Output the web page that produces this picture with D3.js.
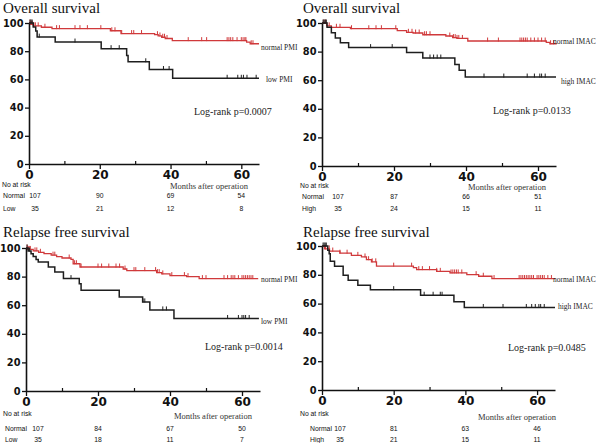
<!DOCTYPE html>
<html><head><meta charset="utf-8">
<script src="https://cdn.jsdelivr.net/npm/d3@7"></script>
<style>body{margin:0;background:#fff}svg{display:block}</style>
</head><body><svg id="c" width="600" height="443"></svg>
<script>
// ---------- DATA ----------
const titles = ["Overall survival", "Overall survival", "Relapse free survival", "Relapse free survival"];
const groupLabelsNormal = ["normal PMI", "normal IMAC", "normal PMI", "normal IMAC"];
const groupLabelsOther = ["low PMI", "high IMAC", "low PMI", "high IMAC"];
const riskRowOther = ["Low", "High", "Low", "High"];
const logRank = ["Log-rank p=0.0007", "Log-rank p=0.0133", "Log-rank p=0.0014", "Log-rank p=0.0485"];
const xTicks = [0, 20, 40, 60];
const xMinorTicks = [10, 30, 50];
const yTicks = [0, 20, 40, 60, 80, 100];
const riskTimes = [0, 20, 40, 60];

// Panel 1: OS by PMI
const os1NormalT = [0, 0.5, 1.2, 3.5, 6.5, 23, 26, 35.5, 36.5, 37.5, 38.5, 40.5, 61.5, 62.5, 65];
const os1NormalS = [100, 99, 98, 97, 96, 94.5, 92.5, 91.7, 90.8, 89.9, 89, 87.5, 86.4, 85.3, 85.3];
const os1NormalCens = [0.3, 0.6, 0.9, 1.4, 1.8, 2.6, 4.5, 7.8, 8.6, 13, 14.4, 16.5, 20.3, 23.4, 24.3, 26.2, 29, 29.6, 31.8, 36.3, 37, 37.8, 38.3, 39, 45, 48.8, 50.2, 56, 56.5, 57, 57.6, 58.8, 60, 60.5, 61, 61.3, 62.8, 63.3];
const os1LowT = [0, 1.2, 1.9, 2.3, 7.4, 20.4, 27.6, 28, 34, 40.6, 65];
const os1LowS = [100, 97.1, 94.3, 90, 86.5, 81.8, 77, 72.5, 67, 60.8, 60.8];
const os1LowCens = [0.3, 0.6, 0.9, 2.9, 13, 23.2, 25.5, 33, 38, 39.6, 56, 59, 60, 60.6, 61.6, 64.2];

// Panel 2: OS by IMAC
const os2NormalT = [0, 1.3, 2.6, 7.9, 20.9, 23.5, 25.3, 28, 34.4, 36.3, 37.5, 40.5, 62.3, 63.3, 65.2];
const os2NormalS = [100, 98, 97, 96, 94.6, 93.5, 93, 91.8, 90.9, 89.8, 89.2, 87.4, 86.4, 85.5, 85.5];
const os2NormalCens = [0.5, 1, 2, 4, 5, 8.2, 13, 15, 16.5, 20.5, 24, 25, 26, 27, 28.5, 29, 30, 35.5, 36.5, 37, 37.5, 38, 39, 46, 49, 55, 55.5, 56, 56.5, 57, 58, 59, 60, 61, 62, 63.5, 64.3];
const os2HighT = [0, 1.4, 2.6, 3.7, 5.1, 7.4, 23.5, 28, 36.9, 38.1, 39.8, 65];
const os2HighS = [100, 97.1, 93.2, 89.5, 86.2, 82.8, 79.3, 75.5, 71, 66.9, 62.2, 62.2];
const os2HighCens = [0.3, 0.6, 0.9, 1.2, 13.5, 19.5, 30, 31, 32, 33, 45, 50.5, 57, 59, 60.5, 61, 62];

// Panel 3: RFS by PMI
const rfs3NormalT = [0, 0.5, 2, 3.5, 5, 7, 8.5, 10, 12.5, 13.1, 15, 27, 28, 36.3, 37.7, 40, 44.6, 48.1, 64.5];
const rfs3NormalS = [100, 99, 98, 97, 96, 95, 94, 93, 92, 89, 86.7, 85.3, 84.2, 82.8, 81.9, 80.7, 80, 78.6, 78.6];
const rfs3NormalCens = [0.3, 0.6, 0.9, 1.2, 2.5, 3, 4, 7.5, 8, 12, 13.5, 14, 15.3, 20, 21, 23, 25, 26, 27.5, 30, 30.5, 33, 36, 36.5, 37, 38, 40.5, 44, 45, 49, 50, 55, 56, 57, 57.5, 58, 59, 60, 60.5, 61, 61.5, 62, 62.5, 63];
const rfs3LowT = [0, 0.6, 1.4, 2, 2.8, 3.4, 6.2, 8, 10.4, 14.8, 15.3, 25.9, 32.4, 34.4, 41.1, 64.7];
const rfs3LowS = [100, 97.9, 96, 94, 92, 90.2, 86.7, 83.3, 78.6, 75, 70.5, 65.8, 62.3, 56.7, 50.7, 50.7];
const rfs3LowCens = [0.3, 1, 12.5, 32.5, 33, 38, 39, 56, 59, 60, 60.5, 61, 62];

// Panel 4: RFS by IMAC
const rfs4NormalT = [0, 0.7, 2.1, 5, 8.2, 11, 12.4, 13.8, 15.2, 25.5, 26.4, 32, 35.7, 40.4, 43.7, 47.4, 65];
const rfs4NormalS = [100, 98, 96.5, 95, 93.5, 92.4, 90.5, 89, 86, 85, 83.6, 82.4, 81.3, 80.1, 79, 77.4, 77.4];
const rfs4NormalCens = [1, 2, 3, 5, 7, 10, 12, 13, 14, 15, 20, 25, 27, 28, 30, 32, 33, 36, 36.5, 37, 37.5, 38, 39, 43, 45, 48, 55, 55.5, 56, 56.5, 57, 57.5, 58, 58.5, 59, 60, 60.5, 61, 61.5, 62, 63, 64];
const rfs4HighT = [0, 1.6, 2, 2.3, 3.5, 5.9, 7.3, 10, 13.5, 27.5, 36.8, 39.7, 65];
const rfs4HighS = [100, 97.1, 94.7, 89.4, 86, 79.7, 76.2, 72.7, 69.7, 65.8, 61.2, 57.3, 57.3];
const rfs4HighCens = [0.3, 0.6, 0.9, 1.2, 20, 28.5, 31, 33, 33.5, 45, 50.5, 57, 58.5, 59.5, 60.5, 61, 62];

// Numbers at risk
const riskNormal = [[107, 90, 69, 54], [107, 87, 66, 51], [107, 84, 67, 50], [107, 81, 63, 46]];
const riskOther = [[35, 21, 12, 8], [35, 24, 15, 11], [35, 18, 11, 7], [35, 21, 15, 11]];

// ---------- LAYOUT ----------
const layouts = [
  {x0: 29, x1: 259, yT: 23, yB: 164, ox: 0, oy: 0, rowLX: 3, naX: 2, r0: 6, titleY: 13, monX: 170, monY: 189, naY: 187, nY: 198, oY: 211, nlx: 261, nly: 47, olx: 266, oly: 79, lrx: 194, lry: 115},
  {x0: 322, x1: 556, yT: 23, yB: 166, ox: 300, oy: 0, rowLX: 302, naX: 300, r0: 16, titleY: 13, monX: 468, monY: 190, naY: 188, nY: 199, oY: 211, nlx: 553, nly: 41, olx: 561, oly: 81, lrx: 493, lry: 114},
  {x0: 26, x1: 260, yT: 248, yB: 391, ox: 0, oy: 220, rowLX: 5, naX: 3, r0: 12, titleY: 237, monX: 174, monY: 419, naY: 416, nY: 431, oY: 442, nlx: 261, nly: 279, olx: 261, oly: 321, lrx: 205, lry: 350},
  {x0: 322, x1: 555, yT: 246, yB: 390, ox: 300, oy: 220, rowLX: 310, naX: 300, r0: 18, titleY: 237, monX: 478, monY: 420, naY: 416, nY: 431, oY: 442, nlx: 553, nly: 279, olx: 558, oly: 306, lrx: 508, lry: 351}
];

const curves = [
  [{t: os1NormalT, s: os1NormalS, c: os1NormalCens}, {t: os1LowT, s: os1LowS, c: os1LowCens}],
  [{t: os2NormalT, s: os2NormalS, c: os2NormalCens}, {t: os2HighT, s: os2HighS, c: os2HighCens}],
  [{t: rfs3NormalT, s: rfs3NormalS, c: rfs3NormalCens}, {t: rfs3LowT, s: rfs3LowS, c: rfs3LowCens}],
  [{t: rfs4NormalT, s: rfs4NormalS, c: rfs4NormalCens}, {t: rfs4HighT, s: rfs4HighS, c: rfs4HighCens}]
];

const RED = "#d0393b", BLK = "#1e1e1e";
const serif = "'Liberation Serif','Times New Roman',serif";
const sans = "'Liberation Sans',Arial,sans-serif";
const boldSans = "'DejaVu Sans',sans-serif";
const RFS = 6.8; // risk table font size

const svg = d3.select("#c");
svg.append("rect").attr("width", 600).attr("height", 443).attr("fill", "#fff");

layouts.forEach((L, i) => {
  const x = d3.scaleLinear().domain([0, 65]).range([L.x0, L.x1]);
  const y = d3.scaleLinear().domain([0, 100]).range([L.yB, L.yT]);
  const g = svg.append("g");

  g.append("text").attr("x", L.ox + 3).attr("y", L.titleY).text(titles[i])
    .attr("font-family", serif).attr("font-size", 15).attr("fill", "#111");

  const line = d3.line().x(d => x(d[0])).y(d => y(d[1])).curve(d3.curveStepAfter);
  curves[i].forEach((cv, k) => {
    const pts = cv.t.map((t, j) => [t, cv.s[j]]);
    const col = k === 0 ? RED : BLK;
    g.append("path").attr("d", line(pts)).attr("fill", "none")
      .attr("stroke", col).attr("stroke-width", k === 0 ? 1.3 : 1.5);
    const stepVal = t => { let v = cv.s[0]; for (let j = 0; j < cv.t.length; j++) { if (cv.t[j] <= t) v = cv.s[j]; } return v; };
    g.selectAll(null).data(cv.c).enter().append("line")
      .attr("x1", d => x(d)).attr("x2", d => x(d))
      .attr("y1", d => y(stepVal(d)) - 3.5).attr("y2", d => y(stepVal(d)) + 0.5)
      .attr("stroke", col).attr("stroke-width", 1);
  });

  const ya = g.append("g").attr("transform", `translate(${L.x0},0)`)
    .call(d3.axisLeft(y).tickValues(yTicks).tickSize(4).tickPadding(1.5).tickSizeOuter(0));
  ya.select(".domain").attr("stroke", "#111").attr("stroke-width", 1.6);
  ya.selectAll(".tick line").attr("stroke", "#111").attr("stroke-width", 1.3);
  ya.selectAll("text").attr("font-family", boldSans).attr("font-weight", "bold").attr("font-size", 9.8).attr("fill", "#111");

  const xa = g.append("g").attr("transform", `translate(0,${L.yB})`)
    .call(d3.axisBottom(x).tickValues(xTicks).tickSize(5).tickPadding(1).tickSizeOuter(0));
  xa.select(".domain").attr("stroke", "#111").attr("stroke-width", 1.6);
  xa.selectAll(".tick line").attr("stroke", "#111").attr("stroke-width", 1.3);
  xa.selectAll("text").attr("font-family", boldSans).attr("font-weight", "bold").attr("font-size", 12).attr("fill", "#111");
  const xm = g.append("g").attr("transform", `translate(0,${L.yB})`)
    .call(d3.axisBottom(x).tickValues(xMinorTicks).tickSize(-3).tickFormat("").tickSizeOuter(0));
  xm.select(".domain").remove();
  xm.selectAll(".tick line").attr("stroke", "#111").attr("stroke-width", 1.2);

  g.append("text").attr("x", L.nlx).attr("y", L.nly).attr("dy", "0.35em").text(groupLabelsNormal[i])
    .attr("font-family", serif).attr("font-size", 7.5).attr("fill", "#222");
  g.append("text").attr("x", L.olx).attr("y", L.oly).attr("dy", "0.35em").text(groupLabelsOther[i])
    .attr("font-family", serif).attr("font-size", 7.5).attr("fill", "#222");
  g.append("text").attr("x", L.lrx).attr("y", L.lry).text(logRank[i])
    .attr("font-family", serif).attr("font-size", 10).attr("fill", "#222");

  g.append("text").attr("x", L.monX).attr("y", L.monY).text("Months after operation")
    .attr("font-family", serif).attr("font-size", 8.5).attr("fill", "#333");
  g.append("text").attr("x", L.naX).attr("y", L.naY).text("No at risk")
    .attr("font-family", sans).attr("font-size", RFS).attr("fill", "#111");
  g.append("text").attr("x", L.rowLX).attr("y", L.nY).text("Normal")
    .attr("font-family", sans).attr("font-size", RFS).attr("fill", "#111");
  g.append("text").attr("x", L.rowLX).attr("y", L.oY).text(riskRowOther[i])
    .attr("font-family", sans).attr("font-size", RFS).attr("fill", "#111");
  const colX = (t, j) => x(t) + (j === 0 ? L.r0 : 0);
  g.selectAll(null).data(riskNormal[i]).enter().append("text")
    .attr("x", (d, j) => colX(riskTimes[j], j)).attr("y", L.nY).attr("text-anchor", "middle").text(d => d)
    .attr("font-family", sans).attr("font-size", RFS).attr("fill", "#111");
  g.selectAll(null).data(riskOther[i]).enter().append("text")
    .attr("x", (d, j) => colX(riskTimes[j], j)).attr("y", L.oY).attr("text-anchor", "middle").text(d => d)
    .attr("font-family", sans).attr("font-size", RFS).attr("fill", "#111");
});
</script></body></html>
